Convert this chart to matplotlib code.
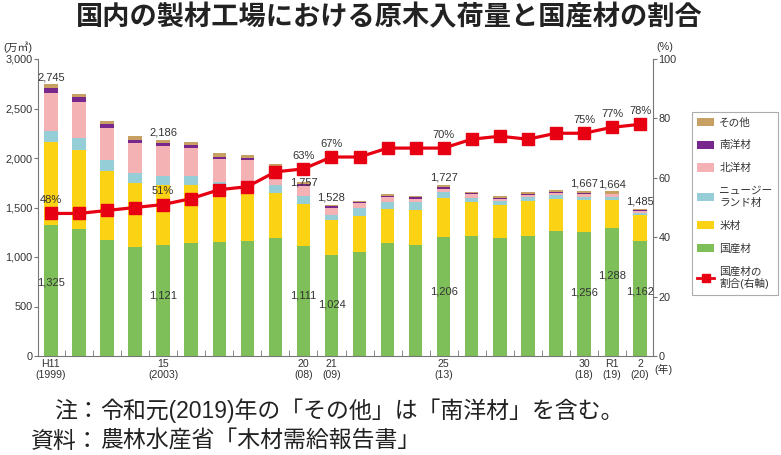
import matplotlib
matplotlib.use("Agg")
import numpy as np
import matplotlib.pyplot as plt
from matplotlib.patches import Patch
from matplotlib.lines import Line2D
from matplotlib.ticker import FuncFormatter

plt.rcParams["font.family"] = ["Liberation Sans", "Noto Sans CJK JP", "DejaVu Sans"]

# 1999 (H11) .. 2020 (R2), 万m3
years = list(range(1999, 2021))
domestic = [1325, 1279, 1168, 1104, 1121, 1138, 1151, 1158, 1195, 1111, 1024,
            1050, 1145, 1124, 1206, 1215, 1195, 1215, 1262, 1256, 1288, 1162]
us_wood = [840, 802, 700, 640, 606, 589, 566, 540, 455, 425, 350,
           364, 336, 354, 387, 337, 330, 351, 321, 320, 291, 259]
nz_wood = [108, 125, 108, 101, 94, 94, 44, 60, 77, 78, 50,
           77, 74, 74, 64, 47, 40, 37, 40, 34, 30, 27]
north_wood = [380, 357, 330, 303, 300, 283, 229, 220, 170, 105, 74,
              50, 50, 37, 30, 34, 20, 25, 20, 24, 25, 17]
south_wood = [55, 50, 37, 35, 34, 27, 24, 24, 20, 18, 15,
              10, 14, 15, 20, 14, 15, 12, 15, 15, 0, 8]
other_wood = [37, 34, 34, 40, 31, 30, 34, 28, 21, 20, 15,
              11, 14, 15, 20, 13, 16, 13, 15, 18, 30, 12]
# 国産材の割合 (%)
share = [48, 48, 49, 50, 51, 53, 56, 57, 62, 63, 67,
         67, 70, 70, 70, 73, 74, 73, 75, 75, 77, 78]

tick_idx = [0, 4, 9, 10, 14, 19, 20, 21]
tick_labels = ["H11\n(1999)", "15\n(2003)", "20\n(08)", "21\n(09)",
               "25\n(13)", "30\n(18)", "R1\n(19)", "2\n(20)"]
labeled = [0, 4, 9, 10, 14, 19, 20, 21]
# heights (万m3) where the domestic value is written inside the green bar
inner_label_y = [740, 616, 616, 525, 656, 646, 818, 656]

series = [
    ("国産材", domestic, "#7EBF5A"),
    ("米材", us_wood, "#FCD214"),
    ("ニュージー\nランド材", nz_wood, "#96CED8"),
    ("北洋材", north_wood, "#F5B2B4"),
    ("南洋材", south_wood, "#78288C"),
    ("その他", other_wood, "#C8A064"),
]
red = "#E60012"
txt = "#333333"
spine_c = "#777777"

fig = plt.figure(figsize=(7.81, 4.55), dpi=100)
ax = fig.add_axes([38 / 781, 1 - 356 / 455, 615 / 781, 297 / 455])
ax2 = ax.twinx()

x = np.arange(len(years))
bottom = np.zeros(len(years))
for name, vals, color in series:
    ax.bar(x, vals, width=0.48, bottom=bottom, color=color, linewidth=0, zorder=2)
    bottom = bottom + np.array(vals)
totals = bottom

ax2.plot(x, share, color=red, lw=2.3, marker="s", ms=8.5, zorder=5)

ax.set_xlim(-0.46, len(years) - 0.54)
ax.set_ylim(0, 3000)
ax2.set_ylim(0, 100)

ax.set_yticks(range(0, 3001, 500))
ax.yaxis.set_major_formatter(FuncFormatter(lambda v, p: f"{int(v):,}"))
ax2.set_yticks(range(0, 101, 20))

ax.set_xticks(tick_idx)
ax.set_xticklabels(tick_labels)
ax.set_xticks(np.arange(0.5, len(years) - 1, 1.0), minor=True)
ax.tick_params(axis="x", which="major", length=0, pad=2, labelsize=7.6, colors=txt)
ax.tick_params(axis="x", which="minor", direction="in", length=4, color=spine_c)
ax.tick_params(axis="y", length=3, pad=1, labelsize=7.8, colors=txt, color=spine_c)
ax2.tick_params(axis="y", length=3, pad=1, labelsize=7.8, colors=txt, color=spine_c)

for s in ["top", "right"]:
    ax.spines[s].set_visible(False)
for s in ["top", "left", "bottom"]:
    ax2.spines[s].set_visible(False)
for s in ["left", "bottom"]:
    ax.spines[s].set_color(spine_c)
ax2.spines["right"].set_color(spine_c)

# value labels
for k, i in enumerate(labeled):
    tot = int(round(totals[i]))
    if i == 9:
        ax.annotate(f"{tot:,}", (x[i], totals[i]), xytext=(0, 0),
                    textcoords="offset points", ha="center", va="center",
                    fontsize=8, color=txt, zorder=6)
    else:
        ax.annotate(f"{tot:,}", (x[i], totals[i]), xytext=(0, 1.5),
                    textcoords="offset points", ha="center", va="bottom",
                    fontsize=8, color=txt)
    ax.text(x[i], inner_label_y[k], f"{domestic[i]:,}", ha="center", va="center",
            fontsize=8, color=txt, zorder=3)
    ax2.annotate(f"{share[i]}%", (x[i], share[i]), xytext=(0, 9.5),
                 textcoords="offset points", ha="center", va="center",
                 fontsize=8, color=txt, zorder=6)

fig.text(17.5 / 781, 1 - 47 / 455, "(万㎥)", ha="center", va="center", fontsize=7.8, color=txt)
fig.text(665 / 781, 1 - 47 / 455, "(%)", ha="center", va="center", fontsize=7.8, color=txt)
fig.text(654 / 781, 1 - 369 / 455, "(年)", ha="left", va="center", fontsize=7.8, color=txt)

fig.text(389 / 781, 1 - 18 / 455, "国内の製材工場における原木入荷量と国産材の割合",
         ha="center", va="center", fontsize=19.6, fontweight="bold", color="#222222")

fig.text(100 / 781, 1 - 411 / 455, "注：", ha="right", va="center", fontsize=16.5, color="#222222")
fig.text(100 / 781, 1 - 411 / 455, "令和元(2019)年の「その他」は「南洋材」を含む。",
         ha="left", va="center", fontsize=16.5, color="#222222")
fig.text(100 / 781, 1 - 441 / 455, "資料：", ha="right", va="center", fontsize=16.5, color="#222222")
fig.text(100 / 781, 1 - 441 / 455, "農林水産省「木材需給報告書」",
         ha="left", va="center", fontsize=16.5, color="#222222")

handles = [Patch(facecolor=c, edgecolor="none", label=n) for n, v, c in reversed(series)]
handles.append(Line2D([0], [0], color=red, lw=2, marker="s", ms=6, label="国産材の\n割合(右軸)"))
leg = fig.legend(handles=handles, loc="upper left", bbox_to_anchor=(692 / 781, 1 - 112 / 455),
                 bbox_transform=fig.transFigure, borderaxespad=0, fontsize=7.7,
                 frameon=True, fancybox=False, edgecolor="#999999", handlelength=1.6,
                 handleheight=0.8, labelspacing=1.2, borderpad=0.5, handletextpad=0.45)
leg.get_frame().set_linewidth(0.8)
for t in leg.get_texts():
    t.set_color(txt)

fig.savefig("out.png", dpi=100)
